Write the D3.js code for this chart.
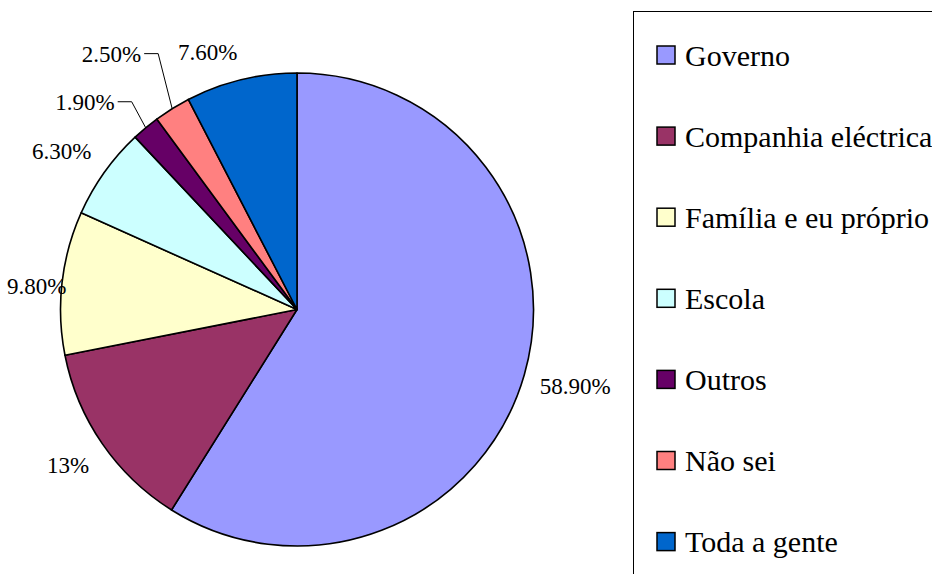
<!DOCTYPE html>
<html><head><meta charset="utf-8">
<script src="https://cdn.jsdelivr.net/npm/d3@7/dist/d3.min.js"></script>
<style>body{margin:0;background:#fff}svg{display:block}
.lbl{font-family:"Liberation Serif","Times New Roman",serif;font-size:23px;fill:#000}
.leg{font-family:"Liberation Serif","Times New Roman",serif;font-size:30px;fill:#000}
</style>
</head><body>
<svg id="c" width="932" height="574"></svg>
<script>
const categories = ["Governo","Companhia eléctrica","Família e eu próprio","Escola","Outros","Não sei","Toda a gente"];
const values = [58.9, 13, 9.8, 6.3, 1.9, 2.5, 7.6];
const labels = ["58.90%","13%","9.80%","6.30%","1.90%","2.50%","7.60%"];
const colors = ["#9999FF","#993366","#FFFFCC","#CCFFFF","#660066","#FF8080","#0066CC"];

const svg = d3.select("#c");
const cx = 297, cy = 309.5, R = 236.5;

const pie = d3.pie().sort(null).value(d => d)(values);
const arc = d3.arc().innerRadius(0).outerRadius(R);
const g = svg.append("g").attr("transform", `translate(${cx},${cy})`);

g.selectAll("path").data(pie).join("path")
  .attr("d", arc)
  .attr("fill", (d, i) => colors[i])
  .attr("stroke", "#000").attr("stroke-width", 1.6).attr("stroke-linejoin", "round");

const measure = svg.append("text").attr("class", "lbl").attr("visibility","hidden");
function textW(s){ measure.text(s); return measure.node().getComputedTextLength(); }

let smallIdx = 0;
pie.forEach((d, i) => {
  const a = (d.startAngle + d.endAngle) / 2;
  const sx = Math.sin(a), sy = -Math.cos(a);
  const w = textW(labels[i]), h = 24;
  if (values[i] < 3) {
    const ex = sx * R, ey = sy * R;
    const rise = 26 + 29 * smallIdx;
    const bx = ex - 14, by = ey - rise;
    const hx = bx - 14;
    g.append("polyline")
      .attr("points", `${ex},${ey} ${bx},${by} ${hx},${by}`)
      .attr("fill", "none").attr("stroke", "#000").attr("stroke-width", 1);
    g.append("text").attr("class", "lbl").attr("x", hx - 3).attr("y", by)
      .attr("text-anchor", "end").attr("dy", "0.35em")
      .text(labels[i]);
    smallIdx++;
  } else {
    const gap = R + 16;
    let x = sx * gap + Math.sign(sx) * w / 2;
    let y = sy * gap + Math.max(-1, Math.min(1, 2 * sy)) * h / 2;
    const minX = 7 - cx + w / 2;
    if (x < minX) { x = minX; y += 8; }
    g.append("text").attr("class", "lbl").attr("x", x).attr("y", y)
      .attr("text-anchor", "middle").attr("dy", "0.35em")
      .text(labels[i]);
  }
});
measure.remove();

// legend
const lx = 633, ly = 11;
svg.append("rect").attr("x", lx + 0.5).attr("y", ly + 0.5).attr("width", 400).attr("height", 700)
  .attr("fill", "#fff").attr("stroke", "#000").attr("stroke-width", 1);
const ly0 = 55, lstep = 81.1;
const leg = svg.append("g");
categories.forEach((c, i) => {
  const y = ly0 + i * lstep;
  leg.append("rect").attr("x", 657).attr("y", y - 9).attr("width", 18).attr("height", 18)
    .attr("fill", colors[i]).attr("stroke", "#000").attr("stroke-width", 1.5);
  leg.append("text").attr("class", "leg").attr("x", 685).attr("y", y).attr("dy", "0.35em")
    .text(c);
});
</script>
</body></html>
